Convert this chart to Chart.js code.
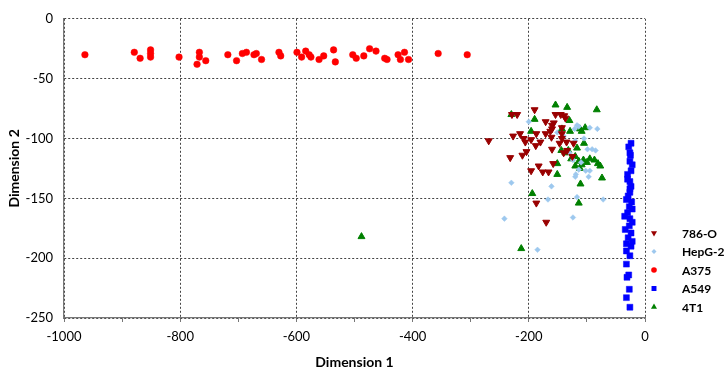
<!DOCTYPE html>
<html>
<head>
<meta charset="utf-8">
<script src="https://cdn.jsdelivr.net/npm/chart.js@4.4.0/dist/chart.umd.min.js"></script>
<style>
  body { margin: 0; background: #fff; }
</style>
</head>
<body>
<canvas id="mds" width="726" height="371"></canvas>
<script>
// series names
var seriesNames = ['786-O', 'HepG-2', 'A375', 'A549', '4T1'];
var xTicks = [-1000, -800, -600, -400, -200, 0];
var yTicks = [-250, -200, -150, -100, -50, 0];

// [dimension 1, dimension 2]
var pts786O = [
  [-269,-102], [-229,-80], [-220,-80], [-190,-76], [-154,-80], [-145,-80], [-139,-81], [-137,-83],
  [-171,-86], [-157,-87], [-160,-89], [-143,-91], [-227,-98], [-215,-96], [-209,-100], [-206,-103],
  [-196,-101], [-188,-106], [-180,-103], [-187,-96], [-171,-96], [-163,-94], [-160,-92], [-161,-99],
  [-143,-96], [-143,-100], [-147,-104], [-135,-103], [-123,-104], [-134,-110], [-125,-115], [-160,-109],
  [-204,-111], [-211,-114], [-232,-116], [-183,-123], [-158,-121], [-196,-127], [-176,-128], [-166,-128],
  [-187,-154], [-170,-170], [-140,-112]
];
var ptsHepG2 = [
  [-200,-86], [-117,-89], [-114,-90], [-95,-91], [-82,-92], [-121,-92], [-151,-95], [-120,-102],
  [-99,-109], [-91,-109], [-85,-110], [-124,-118], [-114,-126], [-102,-127], [-95,-127], [-120,-132],
  [-97,-132], [-119,-130], [-230,-137], [-161,-140], [-167,-151], [-117,-149], [-72,-151], [-242,-167],
  [-124,-166], [-185,-193], [-130,-112], [-110,-120], [-105,-100], [-140,-98]
];
var ptsA375 = [
  [-964,-30], [-879,-28], [-869,-33], [-851,-26], [-851,-29], [-851,-32], [-802,-32], [-771,-38],
  [-767,-28], [-767,-32], [-756,-35], [-718,-30], [-703,-35], [-693,-29], [-686,-28], [-673,-30],
  [-669,-29], [-660,-34], [-630,-28], [-627,-31], [-599,-28], [-591,-32], [-584,-27], [-578,-30],
  [-575,-32], [-561,-34], [-553,-31], [-536,-26], [-533,-36], [-503,-30], [-497,-33], [-484,-31],
  [-474,-25], [-463,-27], [-448,-33], [-444,-34], [-425,-30], [-421,-34], [-414,-28], [-407,-34],
  [-356,-29], [-306,-30]
];
var ptsA549 = [
  [-24,-104], [-28,-107], [-26,-112], [-25,-114], [-26,-119], [-22,-122], [-24,-127], [-30,-130],
  [-30,-134], [-26,-136], [-24,-140], [-26,-142], [-26,-145], [-29,-148], [-32,-151], [-23,-153],
  [-27,-157], [-22,-159], [-30,-162], [-35,-165], [-26,-167], [-22,-170], [-27,-173], [-34,-176],
  [-24,-179], [-29,-183], [-22,-186], [-32,-188], [-24,-190], [-32,-194], [-26,-198], [-32,-205],
  [-28,-214], [-31,-216], [-27,-226], [-32,-233], [-26,-241]
];
var pts4T1 = [
  [-154,-72], [-134,-74], [-83,-76], [-230,-80], [-190,-84], [-130,-85], [-196,-94], [-129,-94],
  [-143,-92], [-112,-92], [-103,-91], [-109,-94], [-105,-104], [-144,-110], [-132,-110], [-117,-108],
  [-137,-112], [-120,-115], [-127,-117], [-114,-119], [-106,-118], [-109,-122], [-112,-125], [-95,-117],
  [-87,-118], [-81,-121], [-77,-123], [-151,-121], [-151,-130], [-74,-133], [-111,-138], [-194,-146],
  [-114,-154], [-213,-192], [-488,-182], [-120,-123], [-100,-120]
];

function toXY(arr) {
  return arr.map(function (p) { return { x: p[0], y: p[1] }; });
}

var FONT = 'Lato, "Open Sans", sans-serif';

// legend drawn by hand so it sits low on the right like the original
var sideLegend = {
  id: 'sideLegend',
  afterDraw: function (chart) {
    var ctx = chart.ctx;
    var y0 = 233, step = 18.5;
    ctx.save();
    chart.data.datasets.forEach(function (ds, i) {
      var y = y0 + i * step;
      ctx.fillStyle = ds.backgroundColor;
      ctx.strokeStyle = ds.backgroundColor;
      Chart.helpers.drawPoint(ctx, {
        pointStyle: ds.pointStyle,
        radius: ds.legendRadius,
        rotation: ds.rotation || 0,
        borderWidth: 0
      }, 654, y);
      ctx.fillStyle = '#000';
      ctx.font = 'bold 12px ' + FONT;
      ctx.textAlign = 'left';
      ctx.textBaseline = 'middle';
      ctx.fillText(ds.label, 682, y + 1);
    });
    ctx.restore();
  }
};

var ctx = document.getElementById('mds').getContext('2d');
var mdsChart = new Chart(ctx, {
  type: 'scatter',
  data: {
    datasets: [
      { label: seriesNames[0], data: toXY(pts786O), pointStyle: 'triangle', rotation: 180,
        pointRadius: 4, borderWidth: 1, backgroundColor: '#990000', borderColor: '#990000', legendRadius: 3.5 },
      { label: seriesNames[1], data: toXY(ptsHepG2), pointStyle: 'rectRot',
        pointRadius: 2.8, borderWidth: 0.5, backgroundColor: '#9DC8EE', borderColor: '#9DC8EE', legendRadius: 2.5 },
      { label: seriesNames[2], data: toXY(ptsA375), pointStyle: 'circle',
        pointRadius: 3.3, borderWidth: 0.5, backgroundColor: '#FF0000', borderColor: '#FF0000', legendRadius: 2.8 },
      { label: seriesNames[3], data: toXY(ptsA549), pointStyle: 'rect',
        pointRadius: 4.2, borderWidth: 0.5, backgroundColor: '#0000FF', borderColor: '#0000FF', legendRadius: 3.5 },
      { label: seriesNames[4], data: toXY(pts4T1), pointStyle: 'triangle',
        pointRadius: 4, borderWidth: 1, backgroundColor: '#008000', borderColor: '#008000', legendRadius: 3.5 }
    ]
  },
  options: {
    responsive: false,
    animation: false,
    events: [],
    layout: { padding: { top: 4, right: 81, left: 0, bottom: 0 } },
    plugins: {
      legend: { display: false },
      tooltip: { enabled: false }
    },
    scales: {
      x: {
        type: 'linear',
        min: -1000,
        max: 0,
        afterFit: function (scale) { scale.height = 53; },
        ticks: {
          stepSize: 100,
          autoSkip: false,
          maxRotation: 0,
          padding: 7,
          color: '#000',
          font: { family: FONT, size: 13 },
          callback: function (v) { return xTicks.indexOf(v) >= 0 ? String(v) : ''; }
        },
        grid: {
          color: function (c) { return c.tick && xTicks.indexOf(c.tick.value) >= 0 ? '#444' : 'rgba(0,0,0,0)'; },
          tickColor: '#777',
          tickLength: 4,
          lineWidth: 1
        },
        border: { display: true, color: '#777', width: 1.2, dash: [2, 2] },
        title: {
          display: true,
          text: 'Dimension 1',
          color: '#000',
          font: { family: FONT, size: 14, weight: 'bold' },
          padding: { top: 0, bottom: 0 }
        }
      },
      y: {
        type: 'linear',
        min: -250,
        max: 0,
        afterFit: function (scale) { scale.width = 64; },
        ticks: {
          stepSize: 50,
          padding: 11,
          color: '#000',
          font: { family: FONT, size: 13 },
          callback: function (v) { return yTicks.indexOf(v) >= 0 ? String(v) : ''; }
        },
        grid: {
          color: '#444',
          drawTicks: false,
          lineWidth: 1
        },
        border: { display: true, color: '#777', width: 1.2, dash: [2, 2] },
        title: {
          display: true,
          text: 'Dimension 2',
          color: '#000',
          font: { family: FONT, size: 14, weight: 'bold', lineHeight: 2.1 },
          padding: { top: 0, bottom: 0 }
        }
      }
    }
  },
  plugins: [sideLegend]
});
</script>
</body>
</html>
